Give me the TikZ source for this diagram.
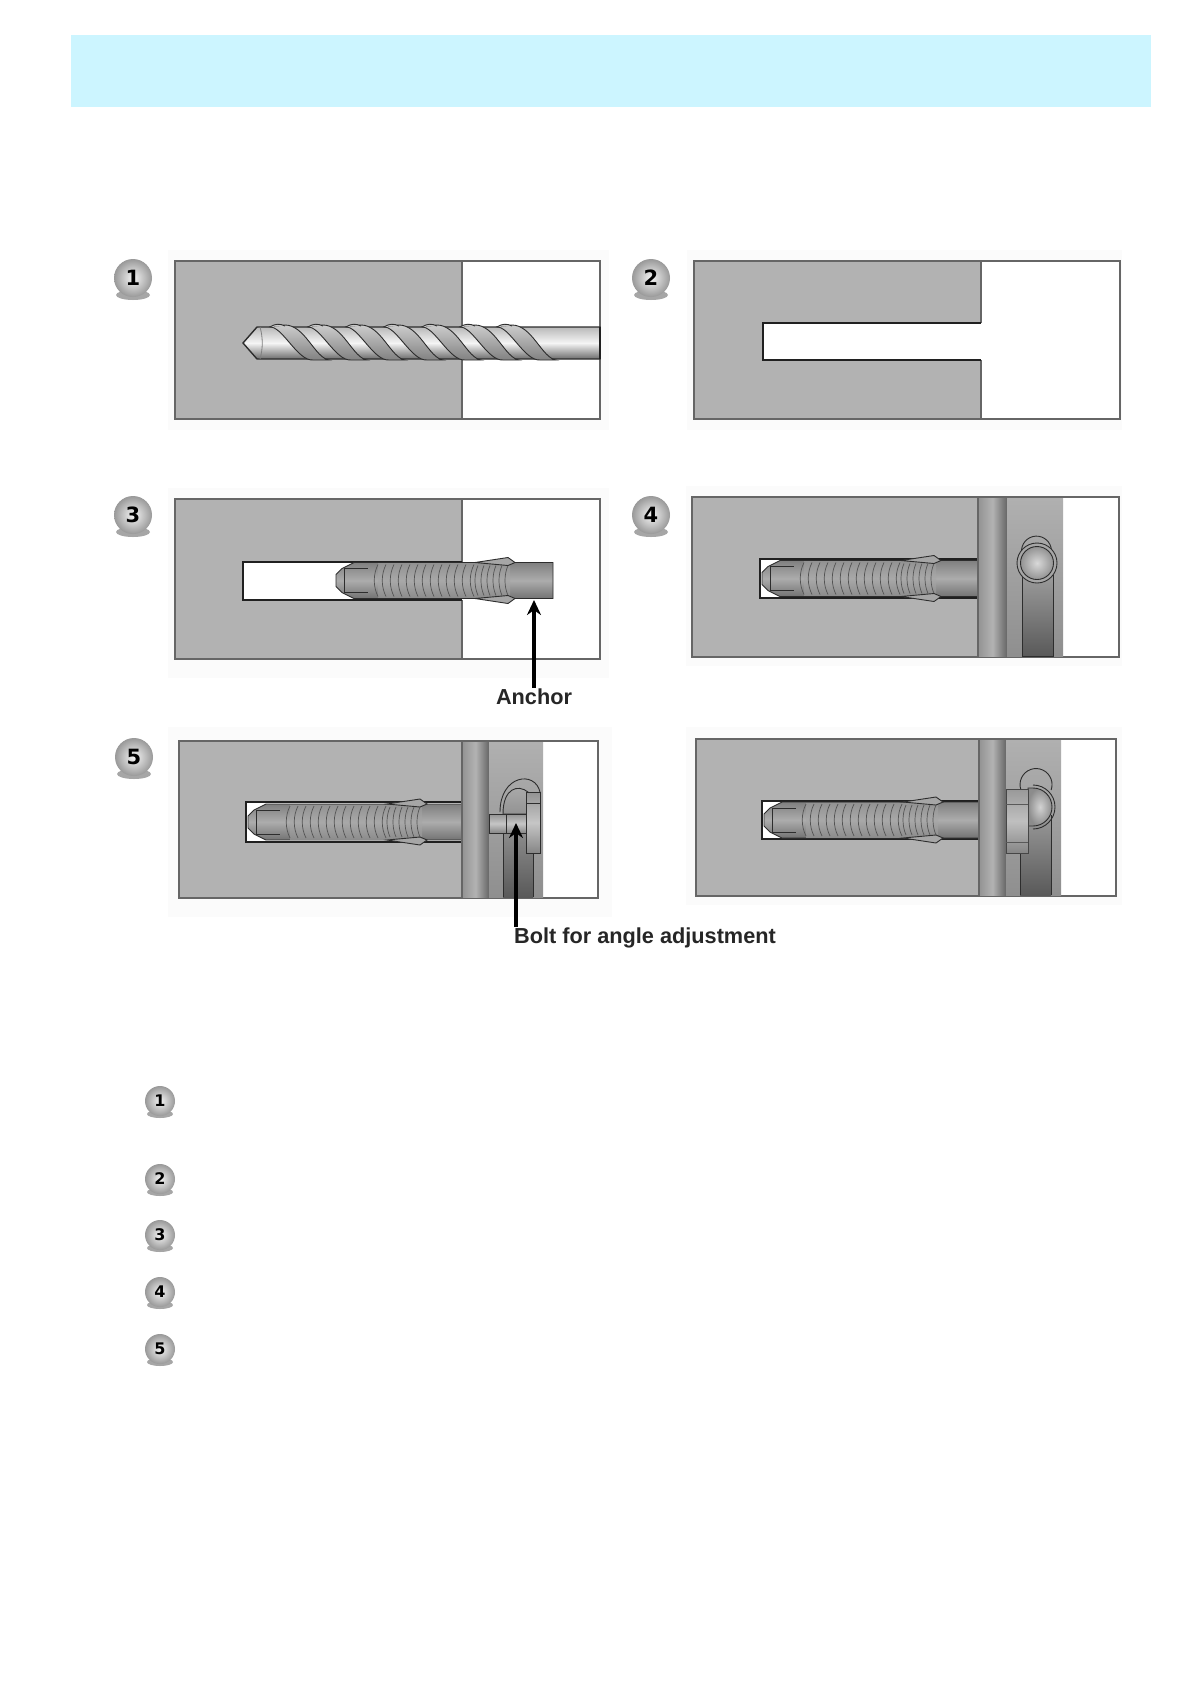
\documentclass[tikz,border=0pt]{standalone}
\usepackage{fontspec}
\setmainfont{Liberation Sans}
\newfontfamily\badgefont{DejaVu Sans}
\usetikzlibrary{arrows.meta}
\definecolor{headerblue}{HTML}{CCF5FF}
\definecolor{concrete}{HTML}{B2B2B2}
\definecolor{pale}{HTML}{FBFBFB}
% anchor body: left end x, centre y, length
\newcommand{\anchorbody}[3]{%
\begin{scope}[shift={(#1,#2)}]
\draw[bodyline,top color=gray,bottom color=gray!90!black,middle color=gray!65] (24,-18) -- (12,-12) -- (6,-6) -- (6,6) -- (12,12) -- (24,18) -- (#3,18) -- (#3,-18) -- cycle;
\draw[bodyline] (14,-12) -- (38,-12) (14,12) -- (38,12) (14,-12) -- (14,12);
\shade[top color=gray!85,bottom color=gray!90,middle color=gray!68] (48,-17) rectangle (180,17);
\foreach \r in {48,56,...,144} \draw[ribline] (\r,-16) .. controls (\r-5,-6) and (\r-5,6) .. (\r,16);
\foreach \r in {148,154,...,178} \draw[ribline] (\r,-15) .. controls (\r-4,-6) and (\r-4,6) .. (\r,15);
% barbs
\draw[bodyline,fill=gray!70] (145,-18) -- (178,-23) -- (185,-18) -- (178,-15) -- cycle;
\draw[bodyline,fill=gray!70] (145,18) -- (178,23) -- (185,18) -- (178,15) -- cycle;
\end{scope}}
\begin{document}
\begin{tikzpicture}[x=1pt,y=-1pt,
  frameline/.style={line width=1.5pt,draw=gray!80!black},
  holeline/.style={line width=1.5pt,draw=gray!25!black},
  bodyline/.style={line width=0.9pt,draw=gray!35!black},
  ribline/.style={line width=0.7pt,draw=gray!65!black},
  plate/.style={left color=gray!85,right color=gray!80!black,middle color=gray!60},
  bracket/.style={top color=gray!62,bottom color=gray!88},
  slotfill/.style={top color=gray!78,bottom color=gray!70!black},
  steel/.style={line width=0.9pt,draw=gray!35!black,top color=gray!85,bottom color=gray!95,middle color=gray!45},
  callout/.style={line width=3.4pt,-{Stealth[length=15pt,width=14pt]}},
  calloutlabel/.style={font=\fontsize{21.7}{24}\selectfont\bfseries,inner sep=1pt,text=black!85},
  bigbadge/.style={circle,minimum size=38pt,inner sep=0pt,inner color=gray!8,outer color=gray!80,font=\badgefont\fontsize{21}{24}\selectfont\bfseries},
  smallbadge/.style={circle,minimum size=30pt,inner sep=0pt,inner color=gray!8,outer color=gray!80,font=\badgefont\fontsize{16}{18}\selectfont\bfseries}]
\useasboundingbox (0,0) rectangle (1188,1682);
\fill[white] (0,0) rectangle (1188,1682);
\fill[headerblue] (71,35) rectangle (1151,107);
% panel backgrounds
\foreach \xa/\ya/\xb/\yb in {168/250/609/430,687/250/1122/430,168/488/609/678,686/486/1122/666,168/727/612/917,686/727/1122/905}
  \fill[pale] (\xa,\ya) rectangle (\xb,\yb);
% concrete and frames
\foreach \xa/\ya/\xd/\xb/\yb in {175/261/462/600/419,694/261/981/1120/419,175/499/462/600/659,692/497/978/1119/657,179/741/462/598/898,696/739/979/1116/896}{
  \fill[white] (\xa,\ya) rectangle (\xb,\yb);
  \fill[concrete] (\xa,\ya) rectangle (\xd,\yb);
  \draw[frameline] (\xa,\ya) rectangle (\xb,\yb);
  \draw[frameline] (\xd,\ya) -- (\xd,\yb);
}
% panel 1, drill
\draw[bodyline,line width=1.4pt,top color=gray!55,bottom color=gray!85!black,middle color=gray!8] (600,327) -- (257,327) -- (243,343) -- (257,359) -- (600,359) -- cycle;
\draw[line width=0.8pt,gray] (260,327) .. controls (263,337) and (263,349) .. (260,359);
\foreach \t in {277,315,353,391,429,467,504}{
  \draw[bodyline,top color=gray!40,bottom color=gray] (\t-8,327) .. controls (\t+5,325) and (\t+20,361) .. (\t+36,360) -- (\t+52,360) .. controls (\t+38,358) and (\t+28,325) .. (\t+8,325) -- cycle;
  \draw[bodyline,fill=gray!42] (\t-7,327) .. controls (\t-2,323.5) and (\t+3,323.5) .. (\t+8,326);
}
\draw[line width=2pt,gray!25!black] (600,327) -- (600,359);
% panel 2, empty hole
\fill[white] (763,323) rectangle (982,360);
\draw[holeline] (981,323) -- (763,323) -- (763,360) -- (981,360);
% panel 3, anchor going in
\fill[white] (243,562) rectangle (463,600);
\draw[holeline] (462,562) -- (243,562) -- (243,600) -- (462,600);
\anchorbody{330}{580.5}{223}
% panel 4
\fill[white] (760,559) rectangle (978,598);
\draw[holeline] (978,559) -- (760,559) -- (760,598) -- (978,598);
\anchorbody{756}{578.5}{222}
\shade[plate] (978,498) rectangle (1007,656);
\shade[bracket] (1007,498) rectangle (1063,656);
\draw[frameline] (978,497) -- (978,657);
\draw[bodyline,slotfill] (1022,575) rectangle (1053,656);
\draw[bodyline] (1022,555) arc[start angle=-195,end angle=15,radius=15];
\draw[bodyline,fill=gray!70] (1037,563) circle[radius=20];
\draw[bodyline,inner color=gray!30,outer color=gray!85] (1037,563) circle[radius=16.5];
% panel 5
\fill[white] (246,802) rectangle (462,842);
\draw[holeline] (462,802) -- (246,802) -- (246,842) -- (462,842);
\anchorbody{242}{822}{220}
\shade[plate] (462,742) rectangle (489,897);
\shade[bracket] (489,742) rectangle (543,897);
\draw[frameline] (462,741) -- (462,898);
\shade[slotfill] (503,812) rectangle (533,897);
\draw[bodyline] (503,820) -- (503,897) (533,853) -- (533,897);
\draw[bodyline] (500,812) .. controls (500,775) and (535,770) .. (540,792);
\draw[bodyline,top color=gray!65,bottom color=gray!85] (503,814) .. controls (503,788) and (518,784) .. (528,792) -- (528,814) -- cycle;
\draw[steel] (489,814) rectangle (526,833);
\draw[bodyline] (506,814) -- (506,833);
\draw[steel] (526,792) rectangle (540,853);
\draw[bodyline] (526,803) -- (540,803);
% panel 6
\fill[white] (762,801) rectangle (979,839);
\draw[holeline] (979,801) -- (762,801) -- (762,839) -- (979,839);
\anchorbody{758}{820}{221}
\shade[plate] (979,740) rectangle (1006,895);
\shade[bracket] (1006,740) rectangle (1061,895);
\draw[frameline] (979,739) -- (979,896);
\shade[slotfill] (1020,812) rectangle (1051,895);
\draw[bodyline] (1020,853) -- (1020,895) (1051,815) -- (1051,895);
\draw[bodyline] (1021,790) arc[start angle=-200,end angle=20,radius=16];
\draw[bodyline,inner color=gray!35,outer color=gray!90] (1028,788) -- (1033,788) arc[start angle=-90,end angle=90,radius=19] -- (1028,826) -- cycle;
\draw[bodyline] (1033,785) arc[start angle=-90,end angle=90,radius=22];
\draw[line width=0.7pt,top color=gray!80,bottom color=gray!95,middle color=gray!50,draw=gray!55!black] (1006,789) rectangle (1028,853);
\draw[line width=0.7pt,gray!70!black] (1006,804) -- (1028,804) (1006,842) -- (1028,842);
% callouts
\node[calloutlabel] (anchorlabel) at (534,697) {Anchor};
\coordinate (anchortip) at (534,600);
\draw[callout] (anchorlabel) -- (anchortip);
\node[calloutlabel,anchor=west] (boltlabel) at (513,938) {Bolt for angle adjustment};
\coordinate (bolttip) at (516,823);
\draw[callout] (bolttip |- boltlabel.north) -- (bolttip);
% badges beside the panels
\foreach \n/\x/\y in {1/133/278,2/651/278,3/133/515,4/651/515,5/134/757}{
  \fill[gray!70] ({\x},{\y+17}) ellipse[x radius=17,y radius=5];
  \node[bigbadge] (panel\n) at (\x,\y) {\n};
}
% badges of the list
\foreach \n/\y in {1/1101,2/1179,3/1235,4/1292,5/1349}{
  \fill[gray!70] (160,{\y+13}) ellipse[x radius=13,y radius=4];
  \node[smallbadge] (item\n) at (160,\y) {\n};
}
\end{tikzpicture}
\end{document}
